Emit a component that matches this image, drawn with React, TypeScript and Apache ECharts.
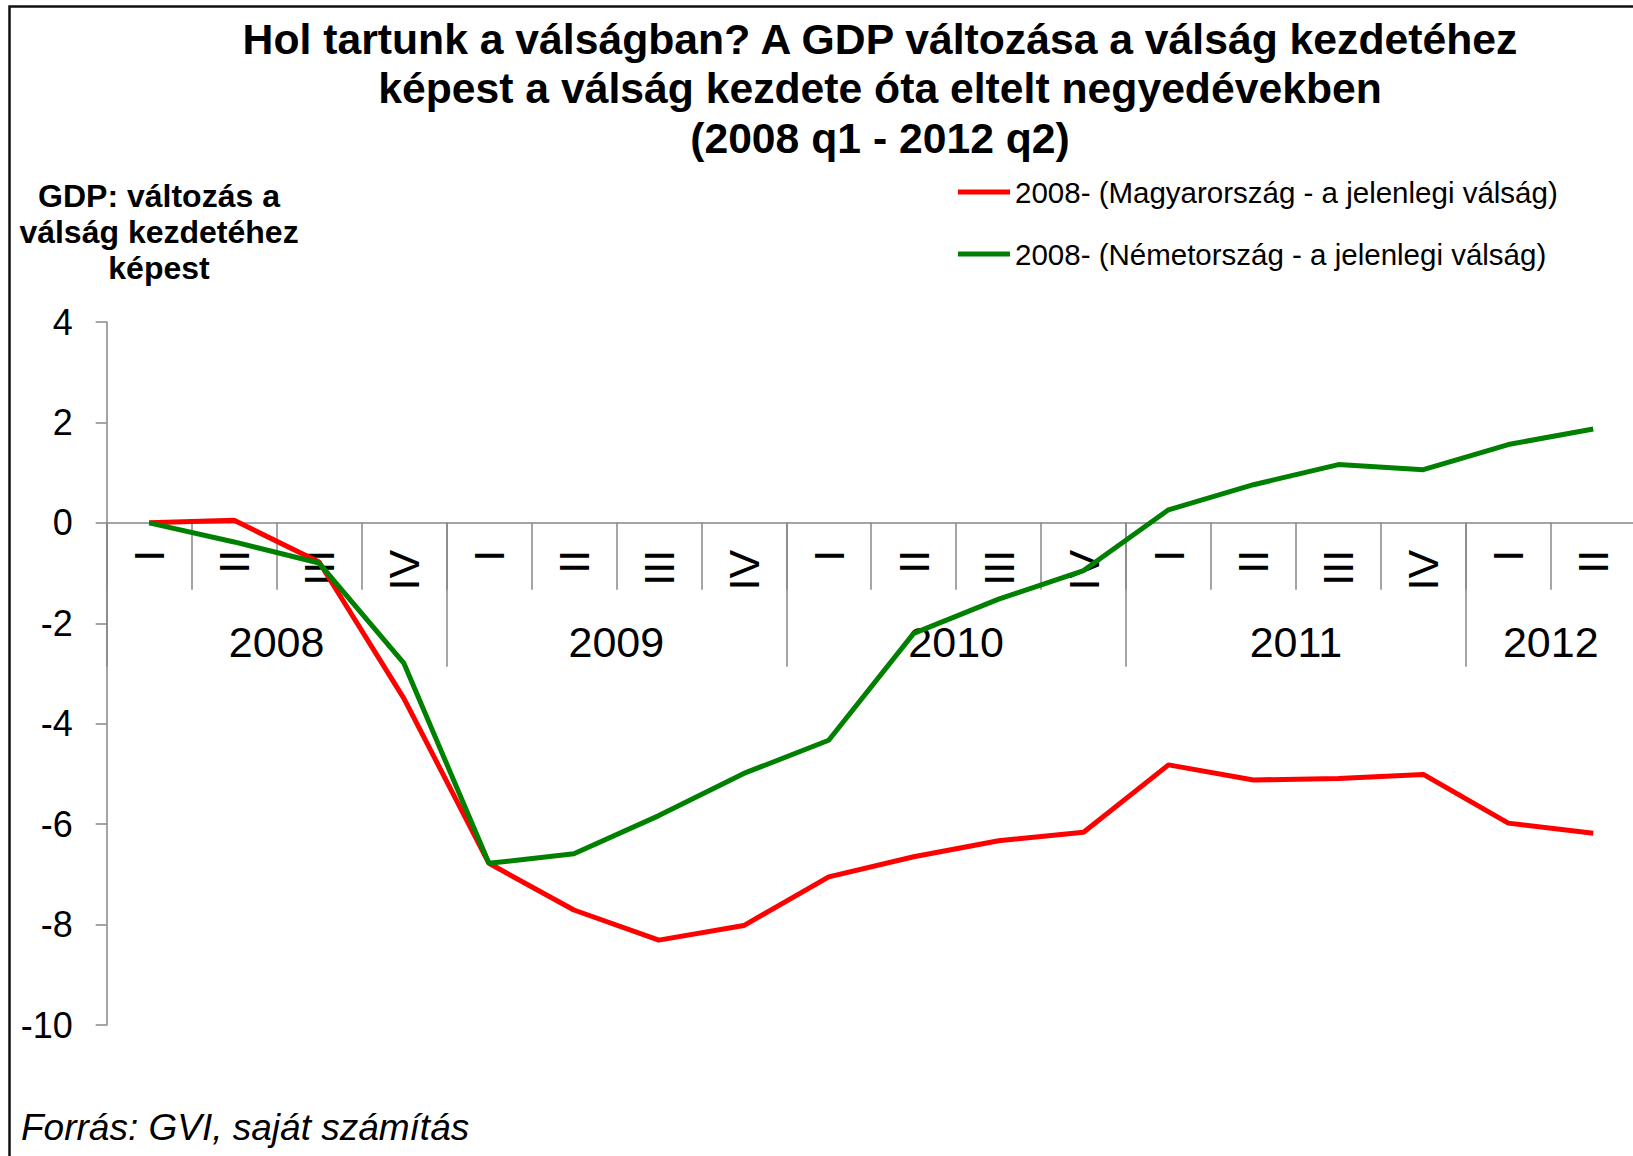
import React, { useEffect, useRef } from "react";
import * as echarts from "echarts";

// ---- Data ----
const quarterLabels = ["I", "II", "III", "IV", "I", "II", "III", "IV", "I", "II", "III", "IV", "I", "II", "III", "IV", "I", "II"];
const years = ["2008", "2009", "2010", "2011", "2012"];
const quartersPerYear = [4, 4, 4, 4, 2];
const hungary = [0, 0.05, -0.78, -3.5, -6.78, -7.71, -8.31, -8.02, -7.05, -6.65, -6.33, -6.16, -4.82, -5.12, -5.09, -5.01, -5.98, -6.18];
const germany = [0, -0.38, -0.8, -2.8, -6.78, -6.59, -5.83, -4.99, -4.33, -2.2, -1.52, -0.95, 0.26, 0.76, 1.16, 1.06, 1.56, 1.87];
const seriesNames = [
  "2008- (Magyarország - a jelenlegi válság)",
  "2008- (Németország - a jelenlegi válság)",
];
const seriesColors = ["#ff0000", "#008000"];
const titleLines = [
  "Hol tartunk a válságban? A GDP változása a válság kezdetéhez",
  "képest a válság kezdete óta eltelt negyedévekben",
  "(2008 q1 - 2012 q2)",
];
const yTitleLines = ["GDP: változás a", "válság kezdetéhez", "képest"];
const sourceText = "Forrás: GVI, saját számítás";
const yMin = -10;
const yMax = 4;
const yInterval = 2;

const FONT = "'Liberation Sans', Arial, Helvetica, sans-serif";
const AXIS_COLOR = "#878787";
const GRID = { left: 106.7, top: 322, width: 1529, height: 703 };
// offset that puts the category axes on the value axis' zero line
const zeroOffset = -GRID.height * ((0 - yMin) / (yMax - yMin));

// Year axis: half-quarter points so that year labels sit at group centres
const yearPoints: string[] = [];
const yearTickIdx = new Set<number>();
const yearLabelIdx = new Set<number>();
(() => {
  const total = quartersPerYear.reduce((a, b) => a + b, 0) * 2;
  for (let i = 0; i <= total; i++) yearPoints.push("");
  let start = 0;
  years.forEach((y, i) => {
    yearTickIdx.add(start);
    const c = start + quartersPerYear[i];
    yearPoints[c] = y;
    yearLabelIdx.add(c);
    start += quartersPerYear[i] * 2;
  });
  yearTickIdx.add(start);
})();

export default function App() {
  const ref = useRef<HTMLDivElement>(null);

  useEffect(() => {
    if (!ref.current) return;
    const chart = echarts.init(ref.current, undefined, { renderer: "svg" });

    const graphics: any[] = [
      {
        type: "rect",
        shape: { x: 9.5, y: 6.5, width: 1700, height: 1300 },
        style: { fill: "none", stroke: "#111", lineWidth: 2.5 },
        silent: true,
      },
    ];
    const titleMid = [39, 88, 138];
    titleLines.forEach((t, i) => {
      graphics.push({
        type: "text",
        x: 880,
        y: titleMid[i],
        style: {
          text: t,
          font: `bold 42.7px ${FONT}`,
          fill: "#000",
          align: "center",
          verticalAlign: "middle",
        },
      });
    });
    const yTitleMid = [196, 232, 268];
    yTitleLines.forEach((t, i) => {
      graphics.push({
        type: "text",
        x: 159,
        y: yTitleMid[i],
        style: {
          text: t,
          font: `bold 32px ${FONT}`,
          fill: "#000",
          align: "center",
          verticalAlign: "middle",
        },
      });
    });
    graphics.push({
      type: "text",
      x: 21,
      y: 1127,
      style: {
        text: sourceText,
        font: `italic 37px ${FONT}`,
        fill: "#000",
        align: "left",
        verticalAlign: "middle",
      },
    });

    chart.setOption({
      animation: false,
      backgroundColor: "#fff",
      textStyle: { fontFamily: FONT },
      legend: {
        orient: "vertical",
        left: 953,
        top: 172,
        icon: "rect",
        itemWidth: 52,
        itemHeight: 5,
        itemGap: 32,
        textStyle: { fontSize: 29.5, color: "#000", fontFamily: FONT, lineHeight: 30 },
        data: seriesNames,
      },
      grid: { ...GRID, outerBoundsMode: "none", containLabel: false },
      xAxis: [
        {
          type: "category",
          position: "bottom",
          offset: zeroOffset,
          data: quarterLabels,
          boundaryGap: true,
          axisLine: {
            show: true,
            onZero: false,
            lineStyle: { color: AXIS_COLOR, width: 1.5 },
          },
          axisTick: { show: true, interval: 0, length: 67, lineStyle: { color: AXIS_COLOR, width: 1.5 } },
          axisLabel: {
            interval: 0,
            rotate: 90,
            margin: 27,
            fontSize: 43,
            color: "#000",
            fontFamily: FONT,
          },
          splitLine: { show: false },
        },
        {
          type: "category",
          position: "bottom",
          offset: zeroOffset,
          data: yearPoints,
          boundaryGap: false,
          axisLine: { show: false, onZero: false },
          axisTick: {
            show: true,
            interval: (idx: number) => yearTickIdx.has(idx),
            length: 144,
            lineStyle: { color: AXIS_COLOR, width: 1.5 },
          },
          axisLabel: {
            interval: (idx: number) => yearLabelIdx.has(idx),
            margin: 98,
            fontSize: 43,
            color: "#000",
            fontFamily: FONT,
          },
          splitLine: { show: false },
        },
      ],
      yAxis: {
        type: "value",
        min: yMin,
        max: yMax,
        interval: yInterval,
        axisLine: { show: true, onZero: false, lineStyle: { color: AXIS_COLOR, width: 1.5 } },
        axisTick: { show: true, length: 11, lineStyle: { color: AXIS_COLOR, width: 1.5 } },
        axisLabel: { margin: 34, fontSize: 36, color: "#000", fontFamily: FONT },
        splitLine: { show: false },
      },
      series: [
        {
          name: seriesNames[0],
          type: "line",
          data: hungary,
          xAxisIndex: 0,
          symbol: "none",
          lineStyle: { color: seriesColors[0], width: 5 },
          itemStyle: { color: seriesColors[0] },
        },
        {
          name: seriesNames[1],
          type: "line",
          data: germany,
          xAxisIndex: 0,
          symbol: "none",
          lineStyle: { color: seriesColors[1], width: 5 },
          itemStyle: { color: seriesColors[1] },
        },
      ],
      graphic: graphics,
    });

    return () => chart.dispose();
  }, []);

  return (
    <div
      ref={ref}
      style={{ position: "fixed", left: 0, top: 0, width: 1633, height: 1156, background: "#fff" }}
    />
  );
}
